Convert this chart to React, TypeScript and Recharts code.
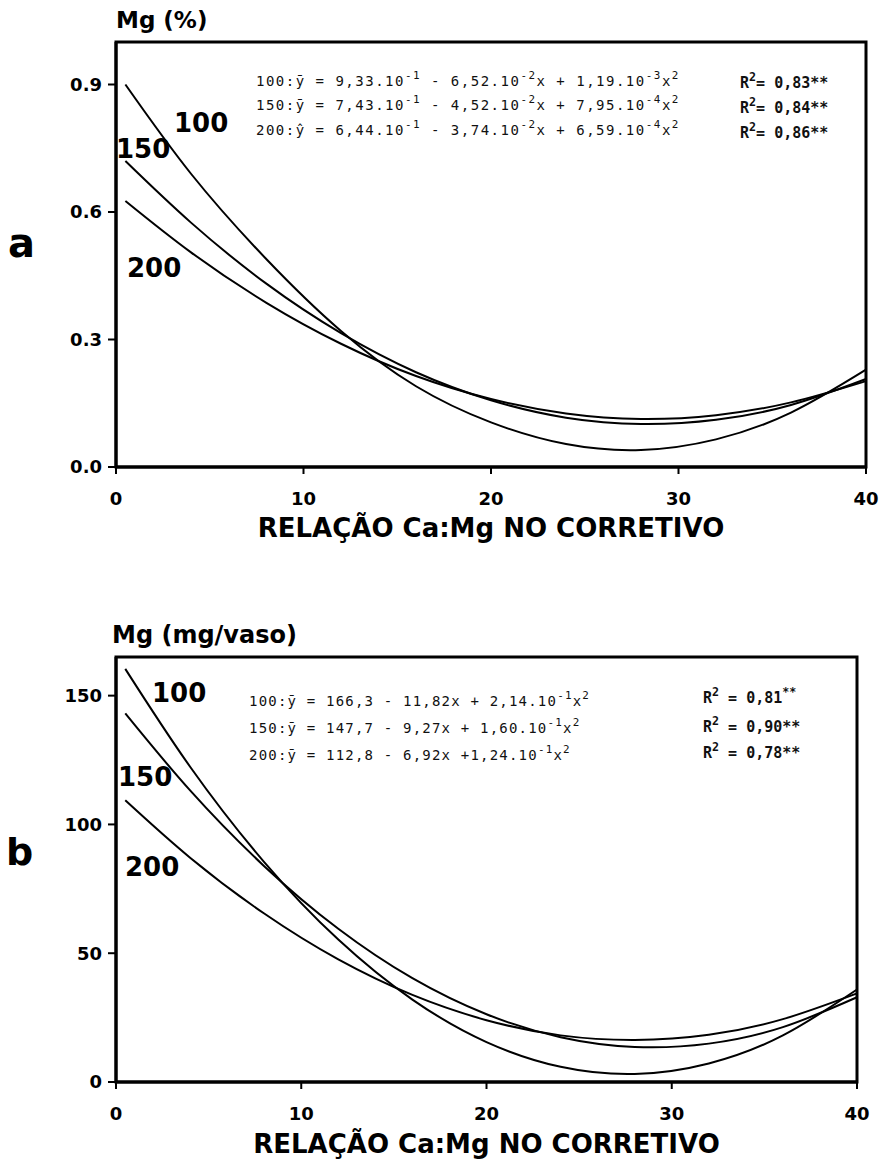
import React from 'react';
import { LineChart, Line, XAxis, YAxis, ReferenceArea, Label } from 'recharts';

// Ca:Mg ratio in the corrective (x positions of the fitted curves)
const ratios = [0.5, 4, 8, 12, 16, 20, 24, 28, 32, 36, 40];

// Mg (%) for the three doses
const pct100 = [0.9, 0.69, 0.49, 0.32, 0.19, 0.105, 0.054, 0.04, 0.065, 0.128, 0.229];
const pct150 = [0.72, 0.575, 0.432, 0.315, 0.223, 0.157, 0.116, 0.101, 0.111, 0.146, 0.207];
const pct200 = [0.626, 0.505, 0.387, 0.29, 0.214, 0.16, 0.126, 0.113, 0.122, 0.152, 0.202];

// Mg (mg/vaso) for the three doses
const mg100 = [160.4, 122.4, 85.4, 55.3, 32.0, 15.5, 5.9, 3.1, 7.2, 18.1, 35.9];
const mg150 = [143.1, 113.2, 83.8, 59.5, 40.3, 26.3, 17.4, 13.6, 14.9, 21.3, 32.9];
const mg200 = [109.4, 87.1, 65.4, 47.6, 33.8, 24.0, 18.1, 16.3, 18.3, 24.4, 34.4];

const xTicks = [0, 10, 20, 30, 40];
const pctTicks = [0, 0.3, 0.6, 0.9];
const mgTicks = [0, 50, 100, 150];
const xTitle = 'RELAÇÃO Ca:Mg NO CORRETIVO';

const pctData = ratios.map((x, i) => ({ x, d100: pct100[i], d150: pct150[i], d200: pct200[i] }));
const mgData = ratios.map((x, i) => ({ x, d100: mg100[i], d150: mg150[i], d200: mg200[i] }));

const bold = { fontFamily: '"DejaVu Sans", sans-serif', fontWeight: 700, color: '#000' };
const mono = { fontFamily: '"DejaVu Sans Mono", monospace', color: '#111', whiteSpace: 'pre' as const };

const Sup = ({ children }: { children: React.ReactNode }) => (
  <span style={{ fontSize: '0.78em', position: 'relative', top: -7 }}>{children}</span>
);

const abs = (left: number, top: number, extra: React.CSSProperties = {}): React.CSSProperties => ({
  position: 'absolute',
  left,
  top,
  lineHeight: '20px',
  ...extra,
});

interface PanelProps {
  data: { x: number; d100: number; d150: number; d200: number }[];
  top: number;
  marginTop: number;
  marginRight: number;
  axisHeight: number;
  yMax: number;
  yTicks: number[];
  yFmt: (v: number) => string;
  titleOffset: number;
}

const Panel: React.FC<PanelProps> = ({ data, top, marginTop, marginRight, axisHeight, yMax, yTicks, yFmt, titleOffset }) => {
  const tick = { fill: '#000', fontSize: 18, fontWeight: 700, fontFamily: '"DejaVu Sans", sans-serif' };
  return (
    <div style={{ position: 'absolute', left: 0, top }}>
      <LineChart width={881} height={560} data={data} margin={{ top: marginTop, right: marginRight, bottom: 0, left: 0 }}>
        <XAxis
          dataKey="x"
          type="number"
          domain={[0, 40]}
          ticks={xTicks}
          height={axisHeight}
          axisLine={{ stroke: '#000', strokeWidth: 3 }}
          tickLine={{ stroke: '#000', strokeWidth: 2 }}
          tickSize={7}
          tickMargin={18}
          tick={tick}
        >
          <Label
            value={xTitle}
            position="insideBottom"
            offset={titleOffset}
            style={{ fill: '#000', fontSize: 26, fontWeight: 700, fontFamily: '"DejaVu Sans", sans-serif' }}
          />
        </XAxis>
        <YAxis
          type="number"
          domain={[0, yMax]}
          ticks={yTicks}
          tickFormatter={yFmt}
          width={116}
          axisLine={{ stroke: '#000', strokeWidth: 3 }}
          tickLine={{ stroke: '#000', strokeWidth: 2 }}
          tickSize={8}
          tickMargin={6}
          tick={tick}
        />
        <ReferenceArea x1={0} x2={40} y1={0} y2={yMax} fill="none" stroke="#000" strokeWidth={3} />
        <Line type="natural" dataKey="d100" stroke="#000" strokeWidth={2} dot={false} isAnimationActive={false} />
        <Line type="natural" dataKey="d150" stroke="#000" strokeWidth={2} dot={false} isAnimationActive={false} />
        <Line type="natural" dataKey="d200" stroke="#000" strokeWidth={2} dot={false} isAnimationActive={false} />
      </LineChart>
    </div>
  );
};

export default function App() {
  return (
    <div style={{ position: 'absolute', left: 0, top: 0, width: 881, height: 1161, background: '#fff', overflow: 'hidden' }}>
      {/* panel a: Mg concentration */}
      <Panel
        data={pctData}
        top={0}
        marginTop={42}
        marginRight={15}
        axisHeight={93}
        yMax={1.0}
        yTicks={pctTicks}
        yFmt={(v) => v.toFixed(1)}
        titleOffset={23}
      />
      {/* panel b: Mg accumulated per pot */}
      <Panel
        data={mgData}
        top={600}
        marginTop={57}
        marginRight={24}
        axisHeight={78}
        yMax={165}
        yTicks={mgTicks}
        yFmt={(v) => String(v)}
        titleOffset={7}
      />

      <div style={abs(116, 6, { ...bold, fontSize: 23, lineHeight: '28px' })}>Mg (%)</div>
      <div style={abs(112, 621, { ...bold, fontSize: 24, lineHeight: '28px' })}>Mg (mg/vaso)</div>
      <div style={abs(8, 221, { ...bold, fontSize: 40, lineHeight: '44px' })}>a</div>
      <div style={abs(6, 830, { ...bold, fontSize: 38, lineHeight: '44px' })}>b</div>

      {/* curve labels */}
      <div style={abs(174, 107, { ...bold, fontSize: 26, lineHeight: '32px' })}>100</div>
      <div style={abs(116, 133, { ...bold, fontSize: 26, lineHeight: '32px' })}>150</div>
      <div style={abs(127, 252, { ...bold, fontSize: 26, lineHeight: '32px' })}>200</div>
      <div style={abs(152, 677, { ...bold, fontSize: 26, lineHeight: '32px' })}>100</div>
      <div style={abs(118, 761, { ...bold, fontSize: 26, lineHeight: '32px' })}>150</div>
      <div style={abs(125, 851, { ...bold, fontSize: 26, lineHeight: '32px' })}>200</div>

      {/* regression equations, panel a */}
      <div style={abs(256, 71, { ...mono, fontSize: 14, letterSpacing: 1.5 })}>
        100:ȳ = 9,33.10<Sup>-1</Sup> - 6,52.10<Sup>-2</Sup>x + 1,19.10<Sup>-3</Sup>x<Sup>2</Sup>
      </div>
      <div style={abs(256, 95, { ...mono, fontSize: 14, letterSpacing: 1.5 })}>
        150:ȳ = 7,43.10<Sup>-1</Sup> - 4,52.10<Sup>-2</Sup>x + 7,95.10<Sup>-4</Sup>x<Sup>2</Sup>
      </div>
      <div style={abs(256, 120, { ...mono, fontSize: 14, letterSpacing: 1.5 })}>
        200:ŷ = 6,44.10<Sup>-1</Sup> - 3,74.10<Sup>-2</Sup>x + 6,59.10<Sup>-4</Sup>x<Sup>2</Sup>
      </div>
      <div style={abs(740, 73, { ...mono, fontSize: 15, fontWeight: 700 })}>R<Sup>2</Sup>= 0,83**</div>
      <div style={abs(740, 98, { ...mono, fontSize: 15, fontWeight: 700 })}>R<Sup>2</Sup>= 0,84**</div>
      <div style={abs(740, 123, { ...mono, fontSize: 15, fontWeight: 700 })}>R<Sup>2</Sup>= 0,86**</div>

      {/* regression equations, panel b */}
      <div style={abs(249, 691, { ...mono, fontSize: 14, letterSpacing: 1.2 })}>
        100:ȳ = 166,3 - 11,82x + 2,14.10<Sup>-1</Sup>x<Sup>2</Sup>
      </div>
      <div style={abs(249, 718, { ...mono, fontSize: 14, letterSpacing: 1.2 })}>
        150:ȳ = 147,7 - 9,27x + 1,60.10<Sup>-1</Sup>x<Sup>2</Sup>
      </div>
      <div style={abs(249, 745, { ...mono, fontSize: 14, letterSpacing: 1.2 })}>
        200:ȳ = 112,8 - 6,92x +1,24.10<Sup>-1</Sup>x<Sup>2</Sup>
      </div>
      <div style={abs(703, 688, { ...mono, fontSize: 15, fontWeight: 700 })}>R<Sup>2</Sup> = 0,81<Sup>**</Sup></div>
      <div style={abs(703, 717, { ...mono, fontSize: 15, fontWeight: 700 })}>R<Sup>2</Sup> = 0,90**</div>
      <div style={abs(703, 743, { ...mono, fontSize: 15, fontWeight: 700 })}>R<Sup>2</Sup> = 0,78**</div>
    </div>
  );
}
